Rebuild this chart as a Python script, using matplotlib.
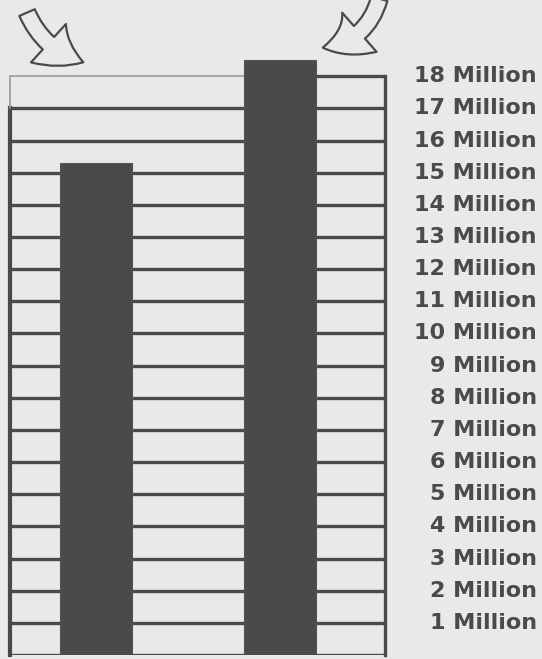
import matplotlib.pyplot as plt
from matplotlib.patches import FancyArrowPatch

# values (millions)
categories = ['A', 'B']
values = [15.3, 18.5]
levels = list(range(1, 19))
level_labels = [f'{n} Million' for n in levels]

bg = '#e9e9e9'
dark = '#4a4a4a'

fig = plt.figure(figsize=(5.42, 6.59), dpi=100, facecolor=bg)
# axes from x=10..385 px, y=57..655 px
ax = fig.add_axes([10 / 542, 4 / 659, 375 / 542, 598 / 659])
ax.set_facecolor(bg)

pos = list(range(len(categories)))
ax.bar(pos, values, width=0.39, color=dark, edgecolor='#555555', lw=0.8, zorder=3)

ax.set_xlim(-0.467, 1.571)
ax.set_ylim(0, 18.6)

# grid lines
for n in levels[:-1]:
    ax.axhline(n, color=dark, lw=2.4, zorder=1)
ax.plot([-0.467, 0.85], [18, 18], color='#9a9a9a', lw=1.2, zorder=1)
ax.plot([1.2, 1.571], [18, 18], color=dark, lw=2.4, zorder=1)
ax.axhline(0, color=dark, lw=2.4, zorder=1)
ax.plot([-0.467, -0.467], [0, 17], color=dark, lw=3, zorder=2, clip_on=False)
ax.plot([-0.467, -0.467], [17, 18], color='#9a9a9a', lw=1.2, zorder=2, clip_on=False)
ax.plot([1.571, 1.571], [0, 18], color=dark, lw=2.4, zorder=2, clip_on=False)

for s in ax.spines.values():
    s.set_visible(False)
ax.set_xticks([])
ax.set_yticks([])

tr = ax.get_yaxis_transform()
for n, lab in zip(levels, level_labels):
    ax.text(1.405, n, lab, transform=tr, ha='right', va='center',
            fontsize=16, fontweight='bold', color=dark, clip_on=False)

# hand-drawn style hollow arrows
a1 = FancyArrowPatch((26, 649), (86, 596), transform=None,
                     arrowstyle='simple,head_width=1.7,head_length=1.3,tail_width=0.55',
                     connectionstyle='arc3,rad=0.25', mutation_scale=22,
                     facecolor=bg, edgecolor=dark, lw=1.6)
a2 = FancyArrowPatch((380, 663), (320, 611), transform=None,
                     arrowstyle='simple,head_width=1.7,head_length=1.3,tail_width=0.55',
                     connectionstyle='arc3,rad=-0.35', mutation_scale=22,
                     facecolor=bg, edgecolor=dark, lw=1.6)
fig.patches.extend([a1, a2])

plt.savefig('out.png', dpi=100, facecolor=bg)
